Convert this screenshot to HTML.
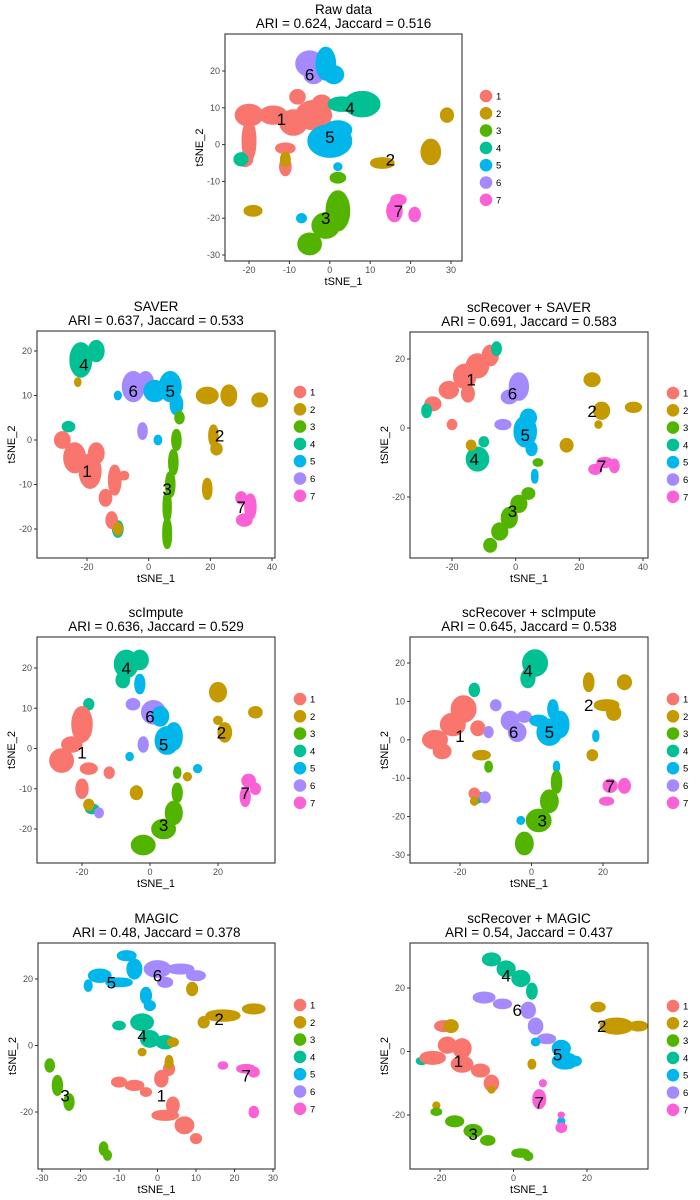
<!DOCTYPE html>
<html><head><meta charset="utf-8"><style>
html,body{margin:0;padding:0;background:#fff;}
svg{display:block;font-family:"Liberation Sans",sans-serif;}
</style></head><body>
<svg id="fig" width="700" height="1200" viewBox="0 0 700 1200"></svg>
<script>
const clusterColors = ["#F8766D","#C49A00","#53B400","#00C094","#00B6EB","#A58AFF","#FB61D7"];
const legendLabels = ["1","2","3","4","5","6","7"];
const titles = ["Raw data","SAVER","scRecover + SAVER","scImpute","scRecover + scImpute","MAGIC","scRecover + MAGIC"];
const subtitles = ["ARI = 0.624, Jaccard = 0.516","ARI = 0.637, Jaccard = 0.533","ARI = 0.691, Jaccard = 0.583","ARI = 0.636, Jaccard = 0.529","ARI = 0.645, Jaccard = 0.538","ARI = 0.48, Jaccard = 0.378","ARI = 0.54, Jaccard = 0.437"];
const xTicks = [[-20,-10,0,10,20,30],[-20,0,20,40],[-20,0,20,40],[-20,0,20],[-20,0,20],[-30,-20,-10,0,10,20,30],[-20,0,20]];
const yTicks = [[-30,-20,-10,0,10,20],[-20,-10,0,10,20],[-20,0,20],[-20,-10,0,10,20],[-30,-20,-10,0,10,20],[-20,0,20],[-20,0,20]];
// blobs: [cluster, x, y, rx, ry] in tSNE units
const blobsRaw = [[1,-20,8,3,2.5],[1,-14,8,3,2],[1,-9,6,3,3],[1,-4,8,4,3.5],[1,-2,11,2,2],[1,-20,1,1.3,5],[1,-21,-4,1.5,1.5],[1,-11,-1,2,1],[1,-11,-6,1,2],[1,-8,13,1.5,1.5],
[6,-5,22,3,3],[6,-4,19,2,2],[5,-1,22,2,4],[5,1,19,2,2],[5,0,1,5,4],[5,2,4,3,2],[5,-7,-20,0.8,0.8],[5,2,-6,0.6,0.6],
[4,8,11,4,3],[4,3,11,3,1.5],[4,-22,-4,1.3,1.3],[2,13,-5,2.5,1],[2,25,-2,2,3],[2,29,8,1.2,1.5],[2,-19,-18,1.8,1],[2,-11,-4,0.8,1.5],
[3,2,-18,2.5,5],[3,-1,-22,3,3],[3,-5,-27,2.5,2.5],[3,2,-9,1.5,1],[7,16,-18,1.5,2.5],[7,17,-15,1.5,1],[7,21,-19,1,1.5]];
const blobsSaver = [[4,-22,18,3,3.5],[4,-17,20,2,2],[4,-26,3,1.5,0.8],[4,-10,-20,1.2,1.5],[2,-23,13,0.5,0.6],
[6,-5,12,3,3],[6,-1,13,2,2],[6,-2,2,1,1.5],[5,2,11,3,2],[5,7,12,3,3],[5,9,8,1.5,2],[5,-10,10,0.6,0.6],[5,3,0,0.7,0.7],
[3,10,5,1,1],[3,9,0,1,2],[3,8,-5,1,2.5],[3,7,-10,1,2.5],[3,6,-15,0.8,3],[3,6,-21,0.9,3],
[1,-28,0,2,1.5],[1,-24,-4,3,3],[1,-19,-7,3,3.5],[1,-17,-3,2,2],[1,-11,-9,1.5,3],[1,-14,-13,1.5,1.5],[1,-12,-18,1.3,1.5],[1,-8,-8,1,0.6],
[2,19,10,3,1.5],[2,26,10,2,2],[2,36,9,2,1.2],[2,21,1,1,2],[2,22,-2,1.3,1],[2,19,-11,1,2],[2,-10,-20,1,1],
[7,31,-18,2,1],[7,33,-15,1.3,2.5],[7,30,-13,1.2,1]];
const blobsRecSaver = [[1,-26,7,2,1.5],[1,-21,11,2.5,2],[1,-16,15,3,3],[1,-12,18,3,3],[1,-8,21,2,2.5],[1,-15,10,1.5,2],[1,-20,1,1,1],
[4,-6,23,1,1.5],[4,-28,5,1,1.5],[4,-12,-9,3,3],[4,-10,-4,1,1],[6,1,12,2.5,3.5],[6,-2,9,2,1.5],[6,-4,1,2,1],
[5,3,-1,3,4],[5,4,3,2,2],[5,5,-6,1.2,1.5],[5,6,-14,0.5,1.5],
[3,4,-19,1.5,1.2],[3,1,-22,2,2],[3,-2,-26,2,2.5],[3,-5,-30,2,2],[3,-8,-34,1.5,1.5],[3,7,-10,1,0.6],
[2,24,14,2,1.5],[2,27,5,2,2],[2,37,6,2,1],[2,16,-5,1.5,1.5],[2,-14,-5,1,1],[2,26,1,0.6,0.6],
[7,25,-12,1.5,1],[7,28,-10,2,1],[7,31,-11,1,1.5]];
const blobsImpute = [[4,-7,21,3,3],[4,-3,22,2,2],[4,-8,17,1.5,1.5],[4,-18,11,1,1],[4,-17,-15,1.5,0.8],
[6,1,9,3,2.5],[6,-5,11,1.5,1],[6,-2,1,1,1.5],[6,-15,-16,0.8,0.8],
[5,5,2,3,3],[5,7,3,2,3],[5,3,8,2,2],[5,-3,16,1,2],[5,-6,-2,0.6,0.6],[5,14,-5,0.7,0.6],
[1,-20,6,2.5,4],[1,-23,1,2.5,1.5],[1,-26,-3,3,2.5],[1,-18,-5,2,1],[1,-20,-10,1.3,2],[1,-12,-6,1,1],
[2,-4,-11,1.3,1.3],[2,20,14,2,2],[2,31,9,1.5,1],[2,22,4,1.5,2],[2,20,7,0.8,0.6],[2,-18,-14,1,1],[2,11,-7,0.7,0.6],
[3,8,-11,1,2],[3,7,-16,2,2.5],[3,4,-20,3,2],[3,-2,-24,3,2],[3,8,-6,0.6,1],
[7,29,-8,1.5,1.2],[7,28,-12,1,2],[7,31,-10,1,1]];
const blobsRecImpute = [[4,1,20,3,3],[4,-1,16,1.5,2],[4,-16,13,1,1.3],[4,-15,-15,1,1],
[1,-19,8,3,3],[1,-22,4,3,2.5],[1,-27,0,3,2],[1,-25,-3,2,1.5],[1,-15,3,1.5,1.5],[1,-16,-14,1,1],
[6,-6,5,2,2],[6,-4,2,2,2],[6,-10,9,1,1],[6,-12,2,0.8,1],[6,-2,6,1.5,1],[6,-13,-15,1,1],
[5,5,2,3,3],[5,8,4,2,3],[5,2,5,2,1],[5,6,8,1,2],[5,-3,-21,0.6,0.6],[5,7,-7,0.4,1],[5,18,1,0.4,1],
[2,16,15,1,2],[2,26,15,1.5,1.5],[2,21,9,3,1],[2,23,7,1.5,1.5],[2,-14,-4,2,0.8],[2,17,-4,1,1],[2,-16,-16,0.6,0.6],
[3,7,-11,1,2.5],[3,5,-16,2,2.5],[3,2,-21,3,2.5],[3,-2,-27,2,2.5],[3,-12,-7,0.6,1],
[7,22,-12,1.5,1.3],[7,26,-12,1.2,1.5],[7,21,-16,1.5,0.6]];
const blobsMagic = [[5,-15,21,2.5,1.5],[5,-18,18,0.6,1.2],[5,-10,19,3,0.8],[5,-6,23,1.5,2.5],[5,-8,27,2,1],[5,-3,15,1,2],[5,-2,12,1,1],
[6,0,23,3,2],[6,2,19,1.5,1],[6,6,23,3,1],[6,10,21,2,1],
[4,-4,7,2.5,2],[4,-2,2,2,2],[4,2,1,2,1.5],[4,-10,6,1.2,0.8],
[1,-10,-11,1.5,1],[1,-6,-12,2,1],[1,1,-10,1.3,2],[1,3,-7,1,1.5],[1,4,-18,1.2,2],[1,2,-21,3,1],[1,7,-24,2,2],[1,10,-28,1,1],[1,-3,-14,1,0.8],
[2,12,7,1,1.2],[2,17,9,4,1.2],[2,25,11,2.5,1],[2,4,1,1,0.8],[2,3,-5,0.6,1.5],[2,-4,-2,0.6,0.6],[2,9,17,1,1.5],
[3,-28,-6,0.8,1.5],[3,-26,-12,0.9,2.5],[3,-23,-17,0.9,2],[3,-14,-31,0.7,1.5],[3,-13,-33,0.6,1],
[7,23,-7,2,0.8],[7,25,-8,1,1],[7,25,-20,0.8,1.2],[7,17,-6,0.8,0.6]];
const blobsRecMagic = [[4,-6,29,2,1.5],[4,-2,26,2,2],[4,2,23,2,2],[4,5,19,1,2],[4,-25,-3,1,0.6],
[6,-8,17,2.5,1.2],[6,-3,15,2,1],[6,4,13,1.5,2],[6,6,8,1.5,2],[6,9,4,2,1],
[5,13,1,2,2],[5,14,-3,3,2],[5,17,-3,1,1],[5,6,3,0.7,0.7],[5,13,-22,0.5,0.7],
[1,-22,-2,3,1.5],[1,-18,2,2,2],[1,-14,1,2,2.5],[1,-14,-4,2.5,2],[1,-9,-6,2,1.5],[1,-6,-10,1.5,2],[1,-19,8,2,1.2],
[2,-17,8,1.5,1.5],[2,23,14,1.5,1],[2,28,8,4,2],[2,34,8,2,1],[2,5,-4,0.6,1],[2,-6,-12,0.5,0.6],[2,-21,-17,0.5,0.6],
[3,-21,-19,1,0.6],[3,-16,-22,2,1.2],[3,-11,-25,2,1.5],[3,-7,-28,1.5,1],[3,2,-32,2,0.8],[3,4,-33,0.8,0.8],
[7,7,-15,1.3,2.5],[7,8,-10,0.5,0.6],[7,13,-24,1,1],[7,13,-20,0.4,0.4]];
const labelsRaw = [[1,-12,7],[6,-5,19],[4,5,10],[5,0,2],[2,15,-4],[3,-1,-20],[7,17,-18]];
const labelsSaver = [[4,-21,17],[6,-5,11],[5,7,11],[2,23,1],[1,-20,-7],[3,6,-11],[7,30,-15]];
const labelsRecSaver = [[1,-14,14],[6,-1,10],[2,24,5],[5,3,-2],[4,-13,-9],[7,27,-11],[3,-1,-24]];
const labelsImpute = [[4,-7,20],[6,0,8],[5,4,1],[1,-20,-1],[2,21,4],[3,4,-19],[7,28,-11]];
const labelsRecImpute = [[4,-1,18],[1,-20,1],[6,-5,2],[5,5,2],[2,16,9],[3,3,-21],[7,22,-12]];
const labelsMagic = [[5,-12,19],[6,0,21],[2,16,8],[4,-4,3],[3,-24,-15],[1,1,-15],[7,23,-9]];
const labelsRecMagic = [[4,-2,24],[6,1,13],[2,24,8],[5,12,-1],[1,-15,-3],[7,7,-16],[3,-11,-26]];

const allBlobs=[blobsRaw,blobsSaver,blobsRecSaver,blobsImpute,blobsRecImpute,blobsMagic,blobsRecMagic];
const allLabels=[labelsRaw,labelsSaver,labelsRecSaver,labelsImpute,labelsRecImpute,labelsMagic,labelsRecMagic];
// layout: box [l,t,r,b], x ref (v1,p1,v2,p2), y ref, legend x/y
const layout=[
 {box:[225,34,462,261],xr:[-20,249,30,451],yr:[20,71,-30,255],lx:486,ly:96},
 {box:[37,331,275,558],xr:[-20,87,40,272],yr:[20,351,-20,529],lx:300,ly:392},
 {box:[410,332,648,558],xr:[-20,452,40,643],yr:[20,359,-20,497],lx:673,ly:393},
 {box:[37,637,275,863],xr:[-20,82,20,218],yr:[20,668,-20,829],lx:300,ly:699},
 {box:[410,637,648,863],xr:[-20,460,20,603],yr:[20,663,-30,855],lx:673,ly:699},
 {box:[38,943,275,1169],xr:[-30,42,30,273],yr:[20,979,-20,1112],lx:300,ly:1005},
 {box:[410,943,648,1169],xr:[-20,440,20,587],yr:[20,988,-20,1115],lx:673,ly:1006}];
const NS="http://www.w3.org/2000/svg";
const svg=document.getElementById('fig');
function mk(tag,attrs,parent){const e=document.createElementNS(NS,tag);for(const k in attrs)e.setAttribute(k,attrs[k]);(parent||svg).appendChild(e);return e;}
layout.forEach((L,i)=>{
 const g=mk('g',{});
 
 
 const [l,t,r,b]=L.box;
 const sx=v=>L.xr[1]+(v-L.xr[0])*(L.xr[3]-L.xr[1])/(L.xr[2]-L.xr[0]);
 const sy=v=>L.yr[1]+(v-L.yr[0])*(L.yr[3]-L.yr[1])/(L.yr[2]-L.yr[0]);
 const kx=Math.abs((L.xr[3]-L.xr[1])/(L.xr[2]-L.xr[0])), ky=Math.abs((L.yr[3]-L.yr[1])/(L.yr[2]-L.yr[0]));
 const cx=(l+r)/2;
 const t1=mk('text',{x:cx,y:t-20,'text-anchor':'middle','font-size':13.5,fill:'#000'},g);t1.textContent=titles[i];
 
 
 const t2=mk('text',{x:cx,y:t-6,'text-anchor':'middle','font-size':13.5,fill:'#000'},g);t2.textContent=subtitles[i];
 
 
 const pts=mk('g',{},g);
 
 
 allBlobs[i].forEach(d=>{
  const c=clusterColors[d[0]-1];
  const e=mk('ellipse',{cx:sx(d[1]),cy:sy(d[2]),rx:d[3]*kx,ry:d[4]*ky,fill:c,stroke:c,'stroke-width':4.5,'stroke-linejoin':'round'},pts);
  
  
 });
 allLabels[i].forEach(d=>{
  const tx=mk('text',{x:sx(d[1]),y:sy(d[2])+6,'text-anchor':'middle','font-size':17,fill:'#000'},g);tx.textContent=String(d[0]);
  
  
 });
 const bx=mk('rect',{x:l,y:t,width:r-l,height:b-t,fill:'none',stroke:'#333','stroke-width':1.1},g);
 
 
 xTicks[i].forEach(v=>{
  mk('line',{x1:sx(v),x2:sx(v),y1:b,y2:b+3,stroke:'#333'},g);
  const tx=mk('text',{x:sx(v),y:b+12,'text-anchor':'middle','font-size':9,fill:'#4d4d4d'},g);tx.textContent=v;
  
  
 });
 yTicks[i].forEach(v=>{
  mk('line',{x1:l-3,x2:l,y1:sy(v),y2:sy(v),stroke:'#333'},g);
  const tx=mk('text',{x:l-5,y:sy(v)+3,'text-anchor':'end','font-size':9,fill:'#4d4d4d'},g);tx.textContent=v;
  
  
 });
 const xt=mk('text',{x:cx,y:b+24,'text-anchor':'middle','font-size':11,fill:'#000'},g);xt.textContent='tSNE_1';
 
 
 const yy=(t+b)/2, yx=l-22;
 const yt=mk('text',{x:yx,y:yy,'text-anchor':'middle','font-size':11,fill:'#000',transform:'rotate(-90 '+yx+' '+yy+')'},g);yt.textContent='tSNE_2';
 
 
 const lg=mk('g',{},g);
 
 
 legendLabels.forEach((s,k)=>{
  const y=L.ly+k*17.3;
  const c=mk('circle',{cx:L.lx,cy:y,r:6.3,fill:clusterColors[k]},lg);
  
  
  const tx=mk('text',{x:L.lx+10,y:y+3.5,'font-size':9.5,fill:'#000'},lg);tx.textContent=s;
  
  
 });
});
</script>
</body></html>
